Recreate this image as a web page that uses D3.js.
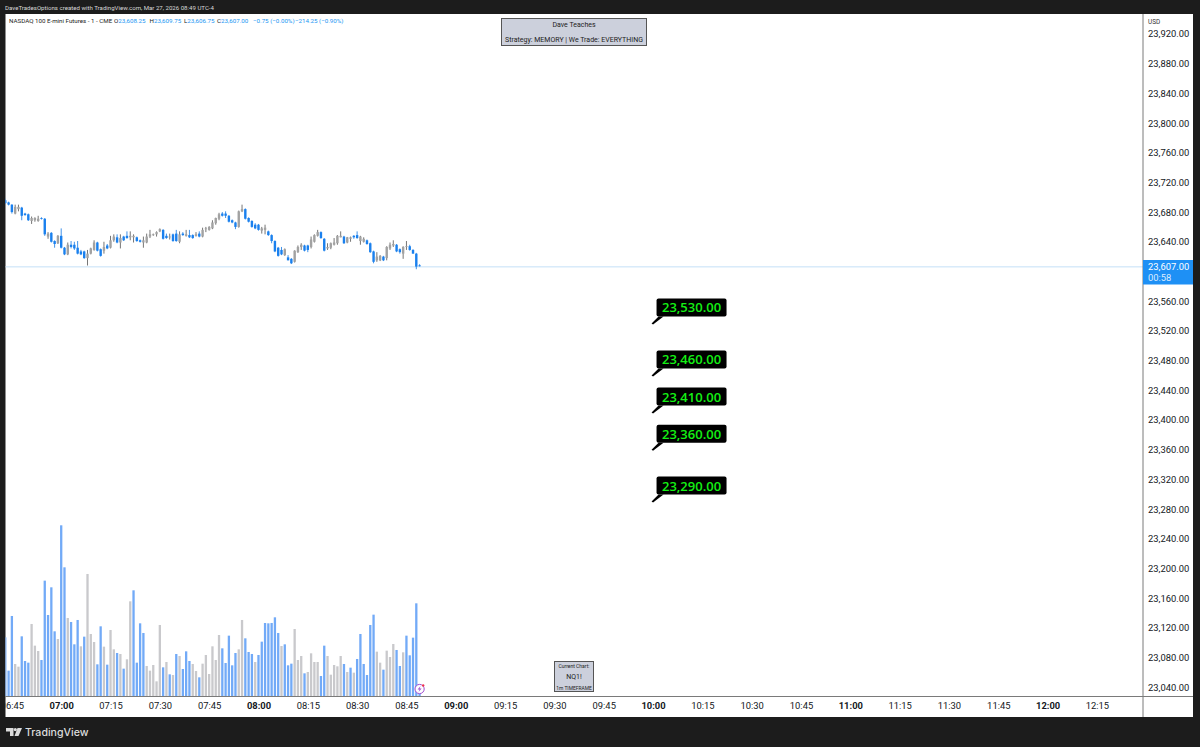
<!DOCTYPE html>
<html>
<head>
    <meta charset="utf-8">
    <script src="https://d3js.org/d3.v7.min.js"></script>
    <style>
        html, body { margin: 0; padding: 0; background: #1c1c1c; }
        svg { display: block; }
        text { font-family: Roboto, sans-serif; }
        .tick line { display: none; }
    </style>
</head>
<body>
    <svg id="chart" width="1200" height="747"></svg>
    <script>
        // one minute candles, first one is 06:43
        const opens = [23696,23693,23690,23678,23684,23686,23678,23677,23668,23669,23668,23672,23671,23647,23652,23641,23638,23648,23632,23623,23636,23636,23632,23627,23627,23618,23624,23629,23639,23630,23628,23635,23632,23642,23646,23639,23647,23648,23646,23646,23646,23642,23639,23639,23647,23649,23650,23654,23656,23648,23646,23650,23651,23640,23651,23648,23649,23649,23648,23651,23647,23657,23656,23658,23665,23671,23678,23678,23675,23669,23666,23660,23681,23684,23672,23668,23663,23663,23655,23656,23654,23649,23641,23632,23629,23622,23619,23617,23613,23626,23633,23635,23635,23633,23640,23648,23653,23644,23631,23632,23636,23638,23646,23647,23639,23644,23648,23649,23641,23640,23642,23638,23627,23615,23615,23620,23618,23631,23635,23636,23630,23624,23633,23634,23629,23624,23608.25];
        const highs = [23698,23694,23690.5,23690,23690,23687,23679,23678,23674,23673,23675,23673,23672,23653,23653,23642,23649,23658,23633,23639,23641,23640,23641,23629,23628,23629,23632,23642,23640,23631,23640,23637,23648,23650,23650,23650,23648,23654,23654,23650,23647,23643,23647,23651,23656,23651,23654,23658,23657,23651,23651,23651,23656,23654,23653,23656,23656,23650,23653,23654,23659,23660,23661,23669,23672.5,23679,23680,23681,23676,23670,23667,23682,23690,23685,23673,23669,23665,23664,23660,23663,23655,23650,23642,23633,23633,23631,23622,23618,23628.5,23635,23638,23636,23636,23647,23650,23656,23654,23645,23638,23639,23645,23649,23654,23648,23646.5,23647,23649,23654,23648,23646,23643,23639,23628,23626,23622,23621,23634,23639,23642,23637,23631,23634,23641,23636,23630,23625,23609.75];
        const lows = [23691,23689,23678,23677,23681,23669,23675,23668,23664,23667,23667,23670,23648,23644,23639,23632,23637,23631,23622,23622,23631,23629,23623,23622,23617,23608,23623,23628,23627,23620,23624,23630,23631,23640,23638,23631,23641,23644,23642,23639,23640,23639,23632,23638,23645,23648,23647,23653,23643,23644,23643,23640,23640,23638,23648,23647,23645,23644,23647,23646,23646,23653,23655,23657,23663,23669,23674,23672,23666,23665,23657,23659,23680,23670,23666,23659,23657,23655,23651,23650,23648,23638,23626,23620,23622,23621,23615,23610,23612,23625,23629,23627,23626,23631,23639,23647,23644,23627,23629,23630,23635,23636,23646,23637,23638,23640,23644,23644,23636,23639,23636,23625,23611,23613,23614,23614,23615,23629,23633,23626,23624,23617,23629,23628,23624,23603,23606.75];
        const closes = [23692,23690,23680,23687,23687,23675,23676,23669,23672,23672,23671,23671,23650,23651,23640,23637,23648,23632,23623,23636,23633,23631,23624,23623,23618,23624,23631,23639,23628,23621,23633,23631,23642,23647,23639,23645,23642,23645,23648,23648,23641,23640,23642,23647,23650,23650,23653,23657,23644,23645,23647,23641,23641,23650,23649,23650,23646,23645,23650,23647,23656,23658,23660,23666,23672,23677,23675,23675,23667,23666,23660,23681,23684,23671,23667,23660,23658,23656,23658,23659,23649,23641,23627,23621,23623,23630,23615,23611,23628,23633,23636,23628,23629,23643,23649,23653,23645,23628,23633,23638,23639,23648,23648,23638,23646,23646,23646,23645,23647,23644,23637,23626,23613,23620,23621,23615,23633,23636,23637,23627,23626,23633,23634,23629,23624,23606.5,23607];
        const volumes = [1760,760,2400,960,880,1790,1050,1000,2160,1510,1350,1080,3460,2430,3260,1940,1710,5120,3860,2340,2220,1550,2280,1490,1780,3660,1860,1620,950,2090,1480,940,1980,1400,1290,1260,820,1100,2840,3170,1000,2180,1890,900,760,930,440,2130,860,1020,650,630,1260,1200,810,1340,1050,960,750,560,970,1230,660,1490,1080,1830,1430,990,1810,920,1290,1400,2280,1730,1320,1260,1020,1230,1630,2190,2180,2190,2360,1890,1500,1550,920,970,2010,1080,1200,680,720,1280,1020,1020,600,1510,1200,640,930,890,1200,960,720,850,700,1110,1860,960,630,2130,2440,1330,1000,790,1360,1170,1560,1380,900,1310,1810,1220,1750,2780,60];
        const volumeColors = ("bbbggbbbgggbbbbbgbbgbbbgbgggbbgbggbgbggbbbbgggggbgbgbgbbbggbgggggg" + "bbbbbggbbbgbbbbbbbgbbbgggbggggbbgggggbgbgbbbbbbggbgggbbgbbbb" + "b").split("");
        // 23,600 sits behind the last price tag so it is left out
        const priceTicks = [23040,23080,23120,23160,23200,23240,23280,23320,23360,23400,23440,23480,23520,23560,23640,23680,23720,23760,23800,23840,23880,23920];
        const timeTicks = ["06:45","07:00","07:15","07:30","07:45","08:00","08:15","08:30","08:45","09:00","09:15","09:30","09:45","10:00","10:15","10:30","10:45","11:00","11:15","11:30","11:45","12:00","12:15"];
        const targets = [23530, 23460, 23410, 23360, 23290];
        const lastPrice = 23607;

        const fmtPrice = d3.format(",.2f");
        const parseTime = d3.timeParse("%Y-%m-%d %H:%M");
        const at = s => parseTime("2026-03-27 " + s);
        const firstBar = at("06:43");

        const svg = d3.select("#chart");

        // panes
        svg.append("rect").attr("x", 5.5).attr("y", 14).attr("width", 1187.5).attr("height", 703).attr("fill", "#fff");

        const x = d3.scaleTime().domain([at("07:00"), at("12:00")]).range([61.2, 1047.6]);
        const y = d3.scaleLinear().domain([23920, 23040]).range([33.9, 687.2]);
        const vol = d3.scaleLinear().domain([0, 5120]).range([696, 525.3]);
        const barTime = i => d3.timeMinute.offset(firstBar, i);

        svg.append("defs").append("clipPath").attr("id", "plot")
            .append("rect").attr("x", 5.5).attr("y", 14).attr("width", 1137.5).attr("height", 703);
        const plot = svg.append("g").attr("clip-path", "url(#plot)");

        // last price line
        plot.append("line").attr("x1", 5).attr("x2", 1143).attr("y1", y(lastPrice) + 0.6).attr("y2", y(lastPrice) + 0.6)
            .attr("stroke", "#c4e0f7").attr("stroke-width", 1);

        // volume
        plot.selectAll("rect.vol").data(volumes).join("rect").attr("class", "vol")
            .attr("x", (d, i) => x(barTime(i)) - 1.15)
            .attr("width", 2.3)
            .attr("y", d => vol(d))
            .attr("height", d => vol(0) - vol(d))
            .attr("fill", (d, i) => volumeColors[i] == "b" ? "#72aaf7" : "#c9c9cc");

        // candles
        const candles = plot.selectAll("g.candle").data(opens).join("g").attr("class", "candle");
        candles.append("line")
            .attr("x1", (d, i) => x(barTime(i))).attr("x2", (d, i) => x(barTime(i)))
            .attr("y1", (d, i) => y(highs[i])).attr("y2", (d, i) => y(lows[i]))
            .attr("stroke", (d, i) => closes[i] < d ? "#2a86e6" : "#666")
            .attr("stroke-width", 0.9);
        candles.append("rect")
            .attr("x", (d, i) => x(barTime(i)) - 1.2)
            .attr("width", 2.4)
            .attr("y", (d, i) => y(Math.max(d, closes[i])))
            .attr("height", (d, i) => Math.max(0.8, Math.abs(y(d) - y(closes[i]))))
            .attr("fill", (d, i) => closes[i] < d ? "#1a80ee" : "#a2a2a2");

        // target callouts
        const calloutX = x(at("10:00")) - 1.5;
        const callouts = plot.selectAll("g.callout").data(targets).join("g").attr("class", "callout")
            .attr("transform", d => `translate(${calloutX},${y(d)})`);
        callouts.append("path").attr("d", "M0,0L7,-7H12L1.5,1Z").attr("fill", "#000");
        callouts.append("rect").attr("x", 5).attr("y", -25).attr("width", 70).attr("height", 18).attr("rx", 2).attr("fill", "#000");
        callouts.append("text").attr("x", 40).attr("y", -11).attr("text-anchor", "middle")
            .attr("font-size", 13).attr("font-weight", 600).attr("fill", "#14f014")
            .style("font-family", '"Open Sans", sans-serif')
            .text(d => fmtPrice(d));

        // volume marker
        const marker = plot.append("g").attr("transform", `translate(${x(at("08:49"))},689)`);
        marker.append("circle").attr("r", 4.6).attr("fill", "#fff").attr("stroke", "#a04bd0").attr("stroke-width", 1);
        marker.append("path").attr("d", "M1,-3L-2,0.5H0L-1,3L2,-0.5H0Z").attr("fill", "#a04bd0");
        marker.append("circle").attr("cx", 3.6).attr("cy", -3.6).attr("r", 1.2).attr("fill", "#f0304a");

        // axes
        const priceAxis = d3.axisRight(y).tickValues(priceTicks).tickSize(0).tickPadding(5).tickFormat(fmtPrice);
        svg.append("g").attr("transform", "translate(1143,0)").call(priceAxis)
            .call(g => g.select(".domain").remove())
            .selectAll("text").attr("font-size", 9.4).attr("fill", "#131722")
            .style("font-family", "Roboto, sans-serif");

        const timeAxis = d3.axisBottom(x).tickValues(timeTicks.map(at)).tickSize(0).tickPadding(5).tickFormat(d3.timeFormat("%H:%M"));
        plot.append("g").attr("transform", "translate(0,697)").call(timeAxis)
            .call(g => g.select(".domain").remove())
            .selectAll("text").attr("font-size", 9.4).attr("fill", "#131722")
            .style("font-family", "Roboto, sans-serif")
            .attr("font-weight", d => d.getMinutes() == 0 ? 700 : 400);

        svg.append("line").attr("x1", 5).attr("x2", 1193).attr("y1", 696.5).attr("y2", 696.5).attr("stroke", "#7a7a7a");
        svg.append("line").attr("x1", 1143).attr("x2", 1143).attr("y1", 14).attr("y2", 717).attr("stroke", "#7a7a7a");

        svg.append("text").attr("x", 1148).attr("y", 24).attr("font-size", 6.4).attr("fill", "#333").text("USD");

        // last price tag
        svg.append("rect").attr("x", 1143).attr("y", 260).attr("width", 50).attr("height", 24.5).attr("fill", "#1e90f5");
        svg.append("text").attr("x", 1148).attr("y", 270.4).attr("font-size", 9.4).attr("fill", "#fff").text(fmtPrice(lastPrice));
        svg.append("text").attr("x", 1148).attr("y", 281.3).attr("font-size", 9.4).attr("fill", "#dcecff").text("00:58");

        // header line and legend
        svg.append("text").attr("x", 5).attr("y", 9.5).attr("font-size", 6.1).attr("fill", "#d8d8d8")
            .text("DaveTradesOptions created with TradingView.com, Mar 27, 2026 08:49 UTC-4");
        svg.append("text").attr("x", 9).attr("y", 23.3).attr("font-size", 6.2).attr("fill", "#222")
            .text("NASDAQ 100 E-mini Futures - 1 - CME");
        const ohlc = [["O", "23,608.25", 114], ["H", "23,609.75", 149.5], ["L", "23,606.75", 184], ["C", "23,607.00", 217], ["", "\u22120.75 (\u22120.00%)", 253], ["", "\u2212214.25 (\u22120.90%)", 295]];
        ohlc.forEach(o => {
            const t = svg.append("text").attr("x", o[2]).attr("y", 23.3).attr("font-size", 6.2).attr("fill", "#2196f3");
            t.append("tspan").attr("fill", "#222").text(o[0]);
            t.append("tspan").text(o[1]);
        });

        // title box
        svg.append("rect").attr("x", 501.5).attr("y", 18.5).attr("width", 145).attr("height", 27).attr("fill", "#ccd0dc").attr("stroke", "#555");
        svg.append("text").attr("x", 574).attr("y", 27).attr("text-anchor", "middle").attr("font-size", 7).attr("fill", "#222").text("Dave Teaches");
        svg.append("text").attr("x", 574).attr("y", 41.5).attr("text-anchor", "middle").attr("font-size", 7).attr("fill", "#222").text("Strategy: MEMORY | We Trade: EVERYTHING");

        // current chart box
        svg.append("rect").attr("x", 554.5).attr("y", 661.5).attr("width", 39).attr("height", 30).attr("fill", "#ccd0dc").attr("stroke", "#555");
        svg.append("text").attr("x", 574).attr("y", 667.5).attr("text-anchor", "middle").attr("font-size", 5).attr("fill", "#222").text("Current Chart:");
        svg.append("text").attr("x", 574).attr("y", 678.5).attr("text-anchor", "middle").attr("font-size", 7).attr("fill", "#222").text("NQ1!");
        svg.append("text").attr("x", 574).attr("y", 689.5).attr("text-anchor", "middle").attr("font-size", 4.9).attr("fill", "#222").text("1m TIMEFRAME");

        // footer logo
        svg.append("path").attr("d", "M6,728H13.5V736H10V731.5H6Z M17.5,728H22L18.5,736H14.5Z").attr("fill", "#dcdcdc");
        svg.append("circle").attr("cx", 15.3).attr("cy", 729.6).attr("r", 1.6).attr("fill", "#dcdcdc");
        svg.append("text").attr("x", 25).attr("y", 735.5).attr("font-size", 10.6).attr("font-weight", 500).attr("fill", "#dcdcdc")
            .style("font-family", "Inter, sans-serif").text("TradingView");
    </script>
</body>
</html>
